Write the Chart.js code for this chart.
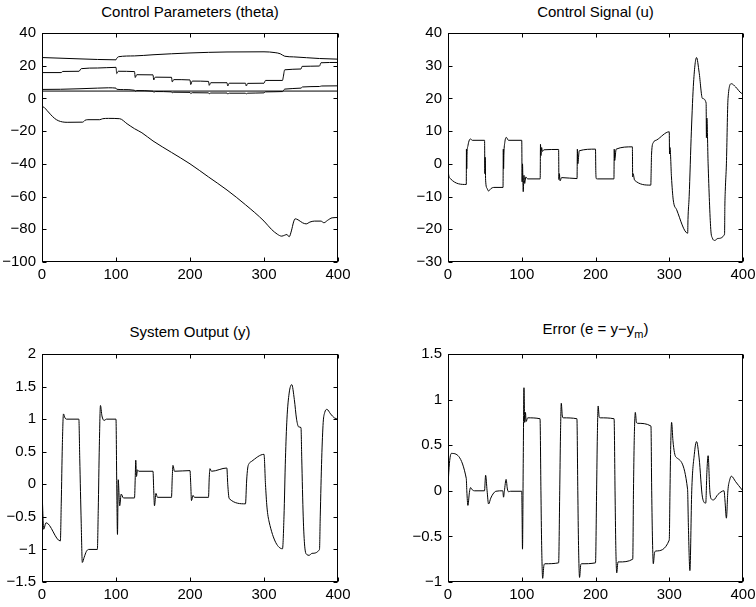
<!DOCTYPE html>
<html>
<head>
<meta charset="utf-8">
<script src="https://cdn.jsdelivr.net/npm/chart.js@4.4.1/dist/chart.umd.min.js"></script>
<style>
html, body { margin: 0; padding: 0; background: #fff; overflow: hidden; }
#fig { position: relative; width: 756px; height: 607px; background: #fff; overflow: hidden;
       font-family: "Liberation Sans", Arial, sans-serif; }
#fig canvas { position: absolute; }
.ttl { position: absolute; text-align: center; font-size: 15px; color: #000; white-space: nowrap; line-height: 17px; }
.ttl .sub { font-size: 11px; position: relative; top: 4px; }
</style>
</head>
<body>
<div id="fig">
  <div class="ttl" style="left:42px;top:3px;width:296px">Control Parameters (theta)</div>
  <div class="ttl" style="left:448px;top:3px;width:295px">Control Signal (u)</div>
  <div class="ttl" style="left:42px;top:323px;width:296px">System Output (y)</div>
  <div class="ttl" style="left:448px;top:320px;width:295px">Error (e = y&minus;y<span class="sub">m</span>)</div>
  <canvas id="cTheta"></canvas>
  <canvas id="cU"></canvas>
  <canvas id="cY"></canvas>
  <canvas id="cE"></canvas>
</div>
<script>
// tick labels
const xTicks = [0, 100, 200, 300, 400];
const thetaTicks = [-100, -80, -60, -40, -20, 0, 20, 40];
const uTicks = [-30, -20, -10, 0, 10, 20, 30, 40];
const yTicks = [-1.5, -1, -0.5, 0, 0.5, 1, 1.5, 2];
const eTicks = [-1, -0.5, 0, 0.5, 1, 1.5];

// adaptive parameters, [t, value]
const theta1 = [[0,25],[50,24.2],[100,23.6],[101,24.5],[103.5,25.5],[125,26],[150,26.7],[200,27.8],[250,28.4],[300,28.5],[315,28],[322,27.3],[328,25.8],[340,25.4],[375,24.4],[400,24]];
const theta2 = [[0,15.8],[26,15.8],[28,16.5],[50,16.6],[53,18.2],[75,18.6],[100,19],[101,15.2],[103,16.6],[125,16.4],[126,12.8],[128,14.5],[150,14.4],[151,11.3],[153,13],[175,12.9],[176,10.1],[178,11.5],[200,11.3],[201,8.5],[203,10.6],[225,10.4],[226,8],[228,9.6],[250,9.6],[251,7.6],[253,9.3],[275,9.3],[276,7.6],[278,9.2],[300,9.3],[302,11],[325,11],[326,13],[328,17.5],[350,18],[351.5,19.6],[375,19.8],[377,21.8],[400,22]];
const theta3 = [[0,5.5],[25,5.6],[50,5.9],[75,6.3],[90,6.5],[100,6.3],[101,5.6],[110,5.4],[125,5.0],[126,4.4],[128,4.8],[150,4.4],[151,3.8],[153,4.2],[175,4.0],[176,3.4],[178,3.8],[200,3.7],[201,3.0],[203,3.5],[225,3.4],[226,2.8],[228,3.3],[250,3.3],[251,2.7],[253,3.2],[275,3.2],[276,2.7],[278,3.2],[300,3.4],[302,4.0],[325,4.2],[328,5.7],[350,6.3],[352,7.0],[375,7.3],[378,7.6],[400,7.7]];
const theta4 = [[0,4.5],[400,4.5]];
const theta5 = [[0,-5],[3,-5.5],[7,-7.5],[12,-10],[17,-12.2],[22,-13.6],[28,-14.4],[34,-14.6],[55,-14.5],[58,-13.4],[62,-13],[78,-13],[82,-12.4],[90,-12.2],[105,-12.4],[115,-15.5],[125,-18.5],[135,-21],[150,-26],[175,-33],[200,-40],[225,-48],[250,-56],[275,-65],[300,-75],[310,-80],[318,-83],[324,-84.2],[328,-83.6],[331,-83.2],[334,-84.6],[337,-81],[340,-75.5],[342,-73.6],[346,-74.2],[352,-76],[357,-76.7],[362,-75.6],[368,-75],[377,-75],[381,-76],[386,-74.5],[392,-73],[400,-72.8]];

// control signal u
const uSig = [[0,-1.5],[1,-3.5],[3.6,-4.6],[24.8,-6.3],[25,4.5],[25.4,-1.5],[25.8,3],[27,5.5],[29,7.3],[30.5,7.6],[33,7.2],[49.6,7.2],[50,-3],[50.4,2],[51,-5],[53,-7.5],[55,-8.3],[58,-7.6],[62,-7.2],[74.6,-7.2],[75,4.5],[75.4,-1.5],[75.8,3],[77,6.5],[79,8.1],[82,7.2],[100,7.2],[100.5,-5.5],[101,0],[102,-8.5],[103,-3.5],[104,-6],[105.5,-4],[108,-4.6],[125,-4.6],[125.4,6],[126,2.5],[127,5],[128,3.8],[130,4.3],[150,4.4],[150.4,-4.8],[151,-3],[152,-5.2],[154,-4.2],[175,-4.5],[175.4,4.5],[176,0],[178,4],[200,4.5],[200.4,-2],[201,-4.5],[202.7,-4.6],[225,-4.6],[225.4,4.5],[226,1],[228,4.5],[250,5.2],[250.4,-4],[251,-3],[253,-5],[275,-6.5],[275.4,-3],[276,3],[278.4,6.5],[283,7.3],[300,9.8],[300.4,3],[301,5],[303,-4],[305.4,-11],[310,-14],[325,-21.2],[325.4,-17],[327,-10],[330,10],[333,25],[337,32.5],[340.5,28],[345,20],[350,18.6],[350.4,8],[351,14],[352.7,0],[356.3,-20],[358.5,-22.7],[361.7,-23.4],[366,-22.8],[375,-21.5],[375.4,-13],[376,-8],[377.5,0],[379.7,20],[384.2,24.5],[390,23.5],[397.8,21.6],[400,21.5]];

// plant output y
const yOut = [[0,0],[1,-0.4],[2.3,-0.69],[5.4,-0.59],[24.8,-0.87],[26,-0.3],[27.5,0.6],[29,1.08],[31,1.02],[33,1.0],[49.8,1.0],[51,0.4],[53,-0.6],[54.5,-1.2],[57,-1.12],[60,-1.03],[63,-1.0],[74.8,-1.0],[76,-0.4],[77.5,0.6],[79,1.21],[81,1.05],[84,0.98],[87,1.0],[100,1.0],[101,0.0],[102,-0.77],[103,0.07],[105,-0.33],[107,-0.15],[110,-0.21],[125,-0.21],[126,0.1],[126.7,0.37],[127.7,0.12],[129,0.22],[131,0.2],[150,0.2],[151,-0.1],[152,-0.33],[154,-0.14],[156,-0.2],[175,-0.2],[176,0.1],[177,0.29],[179,0.2],[200,0.21],[201,0],[202,-0.25],[204,-0.17],[206,-0.2],[225,-0.2],[226,0.1],[227,0.24],[229,0.2],[249.8,0.25],[251,0],[253,-0.22],[275,-0.3],[276.5,0.05],[278,0.25],[280,0.32],[283,0.35],[300,0.46],[302,0],[304,-0.35],[307,-0.58],[325,-0.99],[327,-0.5],[329,0.4],[331,1.0],[334,1.4],[337.5,1.53],[341,1.3],[344,1.0],[347,0.88],[350,0.87],[351,0.4],[353,-0.5],[355,-0.95],[358,-1.08],[361,-1.09],[365,-1.06],[375,-1.0],[376,-0.5],[378,0.4],[380,0.95],[382,1.1],[385,1.15],[390,1.08],[395,1.02],[400,1.0]];

// tracking error e = y - ym
const eErr = [[0,0],[1,0.2],[4.5,0.41],[24.8,0.135],[25.5,0],[27,-0.16],[29,-0.02],[30.6,0.035],[33,0.01],[36,0],[49.5,0],[51,0.17],[53,0],[55,-0.145],[58,-0.08],[61,-0.035],[65,-0.005],[74.3,0],[75.3,-0.07],[76.5,0],[78.8,0.125],[80.5,0.02],[82,-0.01],[85,-0.005],[100,-0.005],[100.5,-0.3],[101,-0.64],[102,0.3],[103,1.13],[104,0.75],[105,0.86],[106,0.76],[108,0.8],[124.8,0.79],[126,0],[127,-0.6],[128.4,-0.96],[130,-0.82],[131.5,-0.8],[150,-0.79],[151.5,0],[152.5,0.6],[153.6,0.96],[155,0.82],[156.3,0.8],[174.8,0.79],[176,0],[177,-0.6],[178.4,-0.95],[180,-0.81],[181,-0.8],[200,-0.79],[201.5,0],[202.5,0.6],[203.6,0.93],[205,0.81],[206.3,0.8],[225.2,0.79],[226.5,0],[227.5,-0.6],[228.8,-0.9],[230.5,-0.78],[232,-0.78],[250.5,-0.75],[251.5,0],[252.5,0.55],[254,0.86],[255.5,0.75],[257,0.74],[275.2,0.71],[276.2,0],[277.3,-0.55],[278.4,-0.8],[280,-0.68],[282,-0.66],[300,-0.54],[301,0],[302,0.5],[303.2,0.75],[305,0.55],[307,0.42],[309,0.37],[324.8,0.02],[326,-0.4],[328,-0.875],[330.5,0],[334,0.4],[337,0.54],[340.5,0.36],[345,-0.07],[349.5,-0.135],[351,0.2],[352.7,0.385],[355,0],[357,-0.09],[360,-0.1],[366,-0.04],[374.3,0],[375.5,-0.1],[377.5,-0.3],[379.5,0],[382,0.12],[384.2,0.16],[390,0.1],[397.8,0.02],[400,0]];

// boxed axes with inward ticks on all four sides
const boxPlugin = {
    id: 'boxAxes',
    afterDraw: function (chart) {
        const ctx = chart.ctx, a = chart.chartArea;
        const sx = chart.scales.x, sy = chart.scales.y;
        const L = Math.round(a.left) + 0.5, R = Math.round(a.right) - 0.5;
        const T = Math.round(a.top) + 0.5, B = Math.round(a.bottom) - 0.5;
        const len = 4;
        ctx.save();
        ctx.strokeStyle = '#000';
        ctx.lineWidth = 1;
        ctx.strokeRect(L, T, R - L, B - T);
        ctx.beginPath();
        sx.ticks.forEach(function (t) {
            const px = Math.round(sx.getPixelForValue(t.value)) + 0.5;
            ctx.moveTo(px, B); ctx.lineTo(px, B - len);
            ctx.moveTo(px, T); ctx.lineTo(px, T + len);
        });
        sy.ticks.forEach(function (t) {
            const py = Math.round(sy.getPixelForValue(t.value)) + 0.5;
            ctx.moveTo(L, py); ctx.lineTo(L + len, py);
            ctx.moveTo(R, py); ctx.lineTo(R - len, py);
        });
        ctx.stroke();
        ctx.restore();
    }
};

const tickFont = { family: '"Liberation Sans", Arial, sans-serif', size: 15 };
const fmt = function (v) { return String(v).replace('-', '\u2212'); };

function panel(canvasId, area, yTickVals, seriesList) {
    const padL = 42, padT = 10, padR = 18, padB = 38;
    const cv = document.getElementById(canvasId);
    cv.width = area[2] - area[0] + padL + padR;
    cv.height = area[3] - area[1] + padT + padB;
    cv.style.left = (area[0] - padL) + 'px';
    cv.style.top = (area[1] - padT) + 'px';
    const datasets = seriesList.map(function (s) {
        return {
            data: s.map(function (p) { return { x: p[0], y: p[1] }; }),
            borderColor: '#000',
            borderWidth: 1,
            pointRadius: 0,
            cubicInterpolationMode: 'monotone',
            fill: false
        };
    });
    new Chart(cv, {
        type: 'line',
        data: { datasets: datasets },
        options: {
            responsive: false,
            animation: false,
            devicePixelRatio: 1,
            layout: { padding: { top: padT, right: padR, left: 0, bottom: 0 } },
            plugins: { legend: { display: false }, tooltip: { enabled: false } },
            scales: {
                x: {
                    type: 'linear',
                    min: xTicks[0], max: xTicks[xTicks.length - 1],
                    afterBuildTicks: function (s) { s.ticks = xTicks.map(function (v) { return { value: v }; }); },
                    afterFit: function (s) { s.height = padB; },
                    grid: { display: false, drawTicks: false },
                    border: { display: false },
                    ticks: { color: '#000', font: tickFont, padding: 4, maxRotation: 0, callback: fmt }
                },
                y: {
                    type: 'linear',
                    min: yTickVals[0], max: yTickVals[yTickVals.length - 1],
                    afterBuildTicks: function (s) { s.ticks = yTickVals.map(function (v) { return { value: v }; }); },
                    afterFit: function (s) { s.width = padL; },
                    grid: { display: false, drawTicks: false },
                    border: { display: false },
                    ticks: { color: '#000', font: tickFont, padding: 6, callback: fmt }
                }
            }
        },
        plugins: [boxPlugin]
    });
}

panel('cTheta', [42, 28, 338, 262], thetaTicks, [theta1, theta2, theta3, theta4, theta5]);
panel('cU', [448, 28, 743, 262], uTicks, [uSig]);
panel('cY', [42, 349, 338, 582], yTicks, [yOut]);
panel('cE', [448, 349, 743, 582], eTicks, [eErr]);
</script>
</body>
</html>
